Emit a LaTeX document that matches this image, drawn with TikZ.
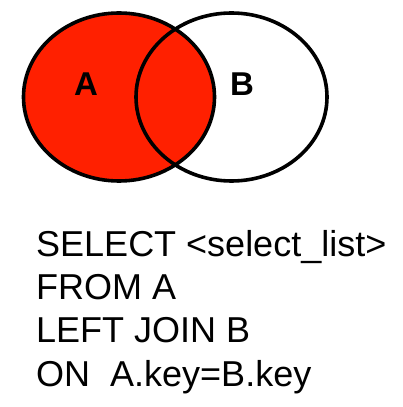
\documentclass[tikz,border=0pt]{standalone}
\usepackage{fontspec}
\setmainfont{Liberation Sans}
\usetikzlibrary{shapes.geometric, positioning}
\definecolor{joinred}{RGB}{255,32,0}

\begin{document}
\begin{tikzpicture}[
    x=1pt, y=1pt,
    setbox/.style={ellipse, draw, line width=3.6pt, inner sep=0pt, minimum width=191pt, minimum height=168pt},
    setlabel/.style={font=\fontsize{33}{33}\selectfont\bfseries, inner sep=0pt},
    sqlline/.style={anchor=base west, inner sep=0pt, font=\fontsize{36}{36}\selectfont},
]
\useasboundingbox (0,0) rectangle (403,407);

% Sets
\node[setbox, fill=joinred] (setA) at (119,310) {};
\node[setbox] (setB) at (231.5,310) {};
\node[setlabel] (labA) at (86,323) {A};
\node[setlabel] (labB) at (242,323) {B};

% Query
\node[sqlline] (q1) at (36,150.5) {SELECT <select\_list>};
\node[sqlline] (q2) at ([yshift=-43.2pt]q1.base west) {FROM A};
\node[sqlline] (q3) at ([yshift=-43.2pt]q2.base west) {LEFT JOIN B};
\node[sqlline] (q4) at ([yshift=-43.2pt]q3.base west) {ON~~A.key=B.key};

\end{tikzpicture}
\end{document}
